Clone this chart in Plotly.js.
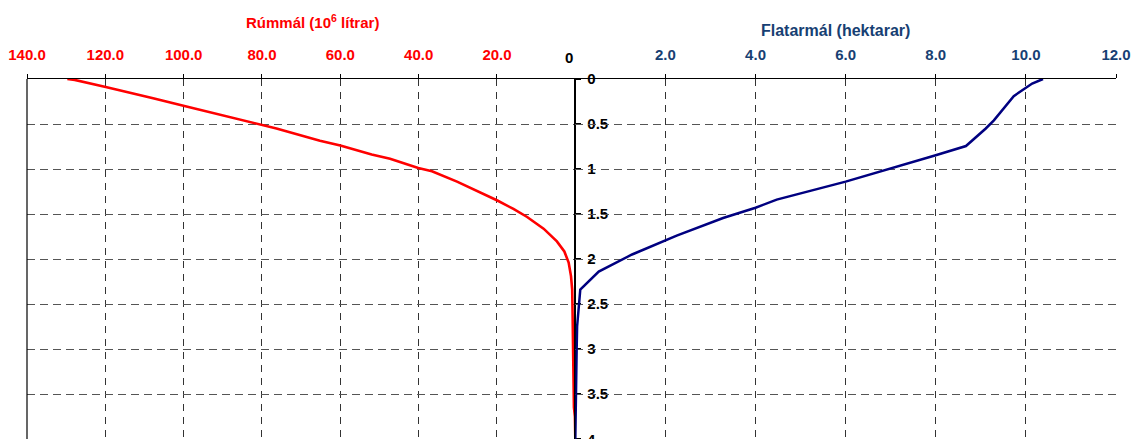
<!DOCTYPE html>
<html>
<head>
<meta charset="utf-8">
<script src="https://cdn.plot.ly/plotly-3.0.1.min.js"></script>
<style>html,body{margin:0;padding:0;background:#fff;}#chart{width:1132px;height:439px;}</style>
</head>
<body>
<div id="chart"></div>
<script>
// Rúmmál (volume, 10^6 lítrar) vs depth
const volDepth = [0, 0.01, 0.09, 0.19, 0.215, 0.30, 0.44, 0.47, 0.51, 0.55, 0.685, 0.74, 0.84, 0.885, 0.99, 1.025, 1.14, 1.24, 1.35, 1.444, 1.533, 1.663, 1.804, 1.916, 2.04, 2.19, 2.34, 2.6, 3.0, 3.5, 3.65, 3.75, 4.0];
const volume   = [129.7, 127.8, 119.9, 110.8, 107.8, 99.8, 87.0, 84.0, 80.0, 76.3, 65.2, 60.0, 52.0, 47.3, 40.1, 36.6, 30.2, 25.1, 19.9, 15.8, 12.3, 8.1, 4.7, 2.8, 1.7, 1.1, 0.8, 0.7, 0.6, 0.45, 0.35, 0.1, 0.0];

// Flatarmál (area, hektarar) vs depth
const areaDepth = [0, 0.05, 0.19, 0.35, 0.46, 0.55, 0.745, 0.85, 1.14, 1.34, 1.43, 1.545, 1.74, 1.95, 2.14, 2.34, 2.56, 2.75, 3.0, 3.5, 4.0];
const area      = [10.38, 10.14, 9.73, 9.48, 9.29, 9.11, 8.67, 7.98, 6.0, 4.47, 4.0, 3.28, 2.25, 1.26, 0.52, 0.11, 0.07, 0.04, 0.03, 0.02, 0.0];

// tick labels
const volTicks  = [140, 120, 100, 80, 60, 40, 20];
const volLabels = ['140.0', '120.0', '100.0', '80.0', '60.0', '40.0', '20.0'];
const areaTicks  = [2, 4, 6, 8, 10, 12];
const areaLabels = ['2.0', '4.0', '6.0', '8.0', '10.0', '12.0'];
const depthTicks  = [0, 0.5, 1, 1.5, 2, 2.5, 3, 3.5, 4];
const depthLabels = ['0', '0.5', '1', '1.5', '2', '2.5', '3', '3.5', ''];
const depthLastLabel = '4';

const RED = '#FF0000';
const NAVY = '#000080';
const TBLUE = '#173F73';
const FONT = 'Liberation Sans, Arial, sans-serif';
const SPLIT = 0.5035;

const traces = [
  {x: area, y: areaDepth, xaxis: 'x2', yaxis: 'y', mode: 'lines', type: 'scatter',
   line: {color: NAVY, width: 2.5}, hoverinfo: 'none'},
  {x: volume, y: volDepth, xaxis: 'x', yaxis: 'y', mode: 'lines', type: 'scatter',
   line: {color: RED, width: 2.6}, hoverinfo: 'none'}
];

const xCommon = {
  side: 'top', anchor: 'y', showline: true, linecolor: '#000', linewidth: 1.5,
  ticks: 'outside', ticklen: 4, tickcolor: '#000', tickwidth: 1,
  ticklabelstandoff: 8,
  showgrid: true, gridcolor: '#333', gridwidth: 1, griddash: '7px,6px',
  zeroline: false, tickmode: 'array', fixedrange: true
};

const layout = {
  width: 1132, height: 439,
  margin: {l: 27, r: 16, t: 79, b: 0, pad: 0},
  paper_bgcolor: '#fff', plot_bgcolor: '#fff',
  showlegend: false,
  font: {family: FONT},
  xaxis: Object.assign({}, xCommon, {
    domain: [0, SPLIT], range: [140, 0],
    tickvals: volTicks, ticktext: volLabels,
    tickfont: {family: FONT, size: 15, color: RED, weight: 'bold'}
  }),
  xaxis2: Object.assign({}, xCommon, {
    domain: [SPLIT, 1], range: [0, 12],
    tickvals: areaTicks, ticktext: areaLabels,
    tickfont: {family: FONT, size: 15, color: TBLUE, weight: 'bold'}
  }),
  yaxis: {
    range: [4, 0], anchor: 'free', position: SPLIT, side: 'right',
    showline: true, linecolor: '#000', linewidth: 2,
    ticks: 'outside', ticklen: 5, tickwidth: 2, tickcolor: '#000',
    ticklabelstandoff: 3,
    tickmode: 'array', tickvals: depthTicks, ticktext: depthLabels,
    tickfont: {family: FONT, size: 15, color: '#000', weight: 'bold'},
    showgrid: true, gridcolor: '#555', gridwidth: 1, griddash: '8px,5px',
    zeroline: false, fixedrange: true
  },
  shapes: [
    {type: 'line', xref: 'paper', yref: 'paper', x0: 0, x1: 0, y0: 0, y1: 1,
     line: {color: '#000', width: 1.2}}
  ],
  annotations: [
    {text: 'Rúmmál (10<sup>6</sup> lítrar)', xref: 'paper', yref: 'paper',
     x: (312 - 27) / 1089, y: (439 - 22) / 360, xanchor: 'center', yanchor: 'middle',
     showarrow: false, font: {family: FONT, size: 15, color: RED, weight: 'bold'}},
    {text: 'Flatarmál (hektarar)', xref: 'paper', yref: 'paper',
     x: (835 - 27) / 1089, y: (439 - 30) / 360, xanchor: 'center', yanchor: 'middle',
     showarrow: false, font: {family: FONT, size: 16, color: TBLUE, weight: 'bold'}},
    {text: '0', xref: 'paper', yref: 'paper',
     x: (569 - 27) / 1089, y: (439 - 57) / 360, xanchor: 'center', yanchor: 'middle',
     showarrow: false, font: {family: FONT, size: 15, color: '#000', weight: 'bold'}},
    {text: depthLastLabel, xref: 'paper', yref: 'y',
     x: SPLIT + 10 / 1089, y: 4, xanchor: 'left', yanchor: 'middle',
     showarrow: false, font: {family: FONT, size: 15, color: '#000', weight: 'bold'}}
  ]
};

Plotly.newPlot('chart', traces, layout, {displayModeBar: false, staticPlot: true});
</script>
</body>
</html>
